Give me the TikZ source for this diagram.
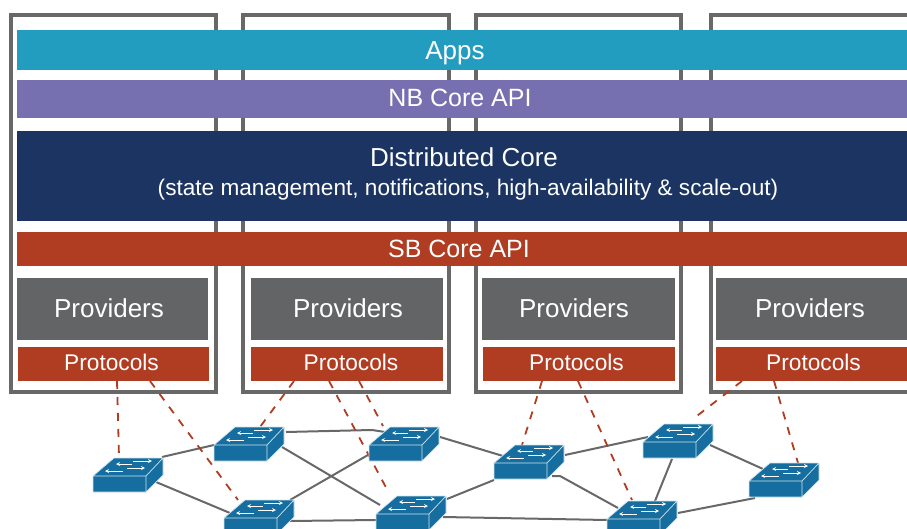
\documentclass[tikz,border=0pt]{standalone}
\usepackage{fontspec}
\setmainfont{Liberation Sans}
\usetikzlibrary{backgrounds}

\definecolor{appsblue}{HTML}{229DBF}
\definecolor{nbpurple}{HTML}{7670B0}
\definecolor{corenavy}{HTML}{1B3462}
\definecolor{sbred}{HTML}{B03C22}
\definecolor{provgrey}{HTML}{636466}
\definecolor{boxgrey}{HTML}{686868}
\definecolor{switchblue}{HTML}{156E9F}
\definecolor{switchedge}{HTML}{CFE3EE}

\pgfdeclarelayer{switches}
\pgfsetlayers{background,main,switches}

\tikzset{
    instance/.style={draw=boxgrey, line width=3.8pt, inner sep=0pt, outer sep=0pt, minimum height=377pt, anchor=north west},
    barbox/.style={fill=#1, minimum width=890pt, inner sep=0pt, outer sep=0pt, anchor=north west},
    provider/.style={fill=provgrey, text=white, minimum width=191pt, minimum height=62pt, inner sep=0pt, outer sep=0pt, anchor=north west, text depth=2pt, font=\fontsize{26}{30}\selectfont},
    protocol/.style={fill=sbred, text=white, minimum width=191pt, minimum height=34pt, inner sep=0pt, outer sep=0pt, anchor=north west, text depth=4pt, font=\fontsize{22.7}{26}\selectfont},
    bartext/.style={text=white, inner sep=0pt, font=\fontsize{26}{30}\selectfont},
    apitext/.style={text=white, inner sep=0pt, font=\fontsize{25}{29}\selectfont},
    smalltext/.style={text=white, inner sep=0pt, font=\fontsize{22.6}{26}\selectfont},
    switchnode/.style={minimum width=70pt, minimum height=34pt, inner sep=0pt},
    link/.style={draw=boxgrey, line width=2pt},
    control/.style={draw=sbred, line width=1.8pt, dash pattern=on 8pt off 8pt},
    port/.style={draw=white, line width=0.8pt, -stealth}
}

\newcommand{\switchbox}[3]{
    \begin{scope}[shift={(#2,#3)}]
        \filldraw[fill=switchblue, draw=switchedge, line width=0.7pt, line join=round]
            (0,0) -- (21,-18) -- (70,-18) -- (53,0) -- cycle
            (0,0) rectangle (53,16)
            (53,0) -- (70,-18) -- (70,-1) -- (53,16) -- cycle;
        \draw[port] (40,-15) -- (59,-15);
        \draw[port] (39,-12) -- (23,-12);
        \draw[port] (34,-8) -- (52,-8);
        \draw[port] (30,-5) -- (12,-5);
        \node[switchnode] (#1) at (35,-1) {};
    \end{scope}
}

\begin{document}
\begin{tikzpicture}[x=1pt, y=-1pt]
    \useasboundingbox (0,0) rectangle (907,529);
    \clip (0,0) rectangle (907,529);

    % controller instances
    \node[instance, minimum width=205pt] (I1) at (11,15) {};
    \node[instance, minimum width=206pt] (I2) at (243,15) {};
    \node[instance, minimum width=205pt] (I3) at (476,15) {};
    \node[instance, minimum width=210pt] (I4) at (711,15) {};

    % layers
    \node[barbox=appsblue, minimum height=40pt] (Apps) at (17,30) {};
    \node[barbox=nbpurple, minimum height=38pt] (NB) at (17,80) {};
    \node[barbox=corenavy, minimum height=90pt] (Core) at (17,131) {};
    \node[barbox=sbred, minimum height=34pt] (SB) at (17,232) {};

    \node[bartext] (AppsText) at (455,53) {Apps};
    \node[apitext] (NBText) at (460,98) {NB Core API};
    \node[bartext] (CoreText) at (464,157) {Distributed Core};
    \node[smalltext] (CoreNote) at (468,190) {(state management, notifications, high-availability \& scale-out)};
    \node[apitext] (SBText) at (459,249) {SB Core API};

    \node[provider] (Prov1) at (17,278) {Providers\hspace*{7pt}};
    \node[provider, minimum width=192pt] (Prov2) at (251,278) {\hspace*{2pt}Providers};
    \node[provider, minimum width=193pt] (Prov3) at (482,278) {Providers\hspace*{9pt}};
    \node[provider] (Prov4) at (716,278) {Providers\hspace*{3pt}};

    \node[protocol] (P1) at (18,347) {Protocols\hspace*{4pt}};
    \node[protocol, minimum width=192pt] (P2) at (251,347) {\hspace*{8pt}Protocols};
    \node[protocol, minimum width=192pt] (P3) at (483,347) {Protocols\hspace*{5pt}};
    \node[protocol] (P4) at (716,347) {\hspace*{4pt}Protocols};

    % network
    \begin{pgfonlayer}{switches}
        \switchbox{S1}{93}{476}
        \switchbox{S2}{214}{445}
        \switchbox{S3}{369}{445}
        \switchbox{S4}{224}{518}
        \switchbox{S5}{376}{514}
        \switchbox{S6}{494}{463}
        \switchbox{S7}{607}{519}
        \switchbox{S8}{643}{442}
        \switchbox{S9}{749}{481}
    \end{pgfonlayer}

    \begin{scope}[on background layer]
        \draw[link] ([shift={(34,-18)}]S1.center) -- ([shift={(-35,1)}]S2.center);
        \draw[link] ([shift={(28,7)}]S1.center) -- ([shift={(-29,-4)}]S4.center);
        \draw[link] ([shift={(37,-12)}]S2.center) -- ([shift={(-32,-14)}]S3.center) -- ([shift={(-19,-12)}]S3.center);
        \draw[link] ([shift={(33,3)}]S2.center) -- ([shift={(-31,-8)}]S5.center);
        \draw[link] ([shift={(-36,11)}]S3.center) -- ([shift={(31,-17)}]S4.center);
        \draw[link] ([shift={(31,4)}]S4.center) -- ([shift={(-35,7)}]S5.center);
        \draw[link] ([shift={(36,-7)}]S3.center) -- ([shift={(-26,-6)}]S6.center);
        \draw[link] ([shift={(36,-14)}]S5.center) -- ([shift={(-35,18)}]S6.center);
        \draw[link] ([shift={(32,4)}]S5.center) -- ([shift={(-35,2)}]S7.center);
        \draw[link] ([shift={(23,14)}]S6.center) -- ([shift={(31,14)}]S6.center) -- ([shift={(-24,-10)}]S7.center);
        \draw[link] ([shift={(36,-7)}]S6.center) -- ([shift={(-30,-4)}]S8.center);
        \draw[link] ([shift={(-6,18)}]S8.center) -- ([shift={(13,-17)}]S7.center);
        \draw[link] ([shift={(32,4)}]S8.center) -- ([shift={(-21,-11)}]S9.center);
        \draw[link] ([shift={(36,-5)}]S7.center) -- ([shift={(-29,18)}]S9.center);
    \end{scope}

    % control channels
    \draw[control] ([xshift=99pt]P1.south west) -- ([shift={(-9,-18)}]S1.center);
    \draw[control] ([xshift=132pt]P1.south west) -- ([shift={(-21,-17)}]S4.center);
    \draw[control] ([xshift=43pt]P2.south west) -- ([shift={(11,-17)}]S2.center);
    \draw[control] ([xshift=78pt]P2.south west) -- ([shift={(-22,-20)}]S5.center);
    \draw[control] ([xshift=108pt]P2.south west) -- ([shift={(-21,-18)}]S3.center);
    \draw[control] ([xshift=59pt]P3.south west) -- ([shift={(-7,-17)}]S6.center);
    \draw[control] ([xshift=95pt]P3.south west) -- ([shift={(-10,-18)}]S7.center);
    \draw[control] ([xshift=26pt]P4.south west) -- ([shift={(15,-22)}]S8.center);
    \draw[control] ([xshift=58pt]P4.south west) -- ([shift={(14,-17)}]S9.center);
\end{tikzpicture}
\end{document}
